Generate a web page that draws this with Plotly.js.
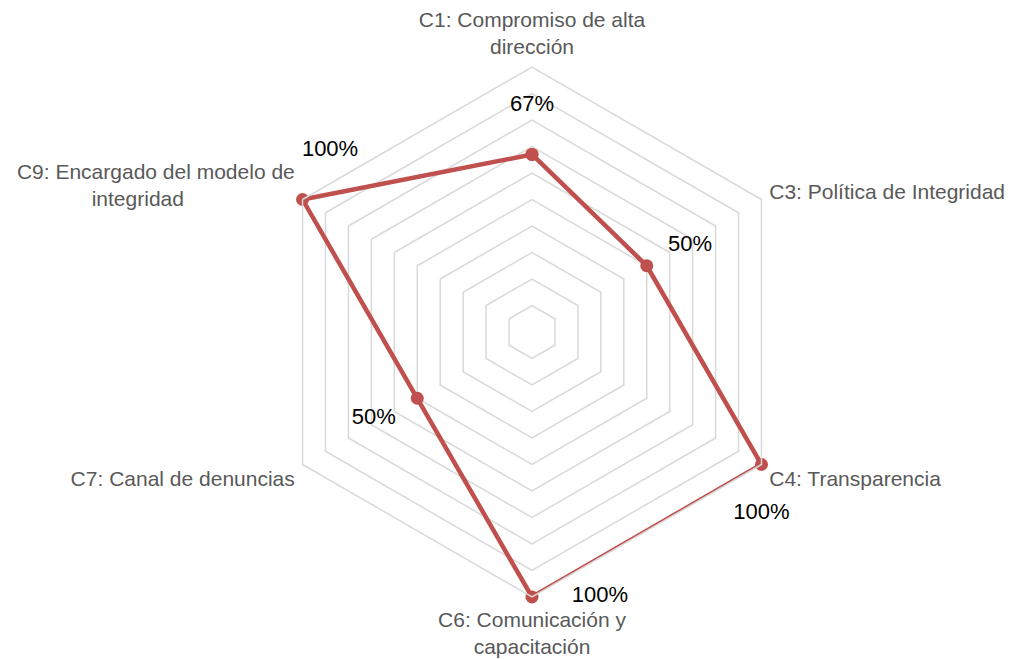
<!DOCTYPE html>
<html><head><meta charset="utf-8">
<script src="https://cdn.plot.ly/plotly-3.0.1.min.js"></script>
<style>html,body{margin:0;padding:0;background:#fff}</style>
</head><body>
<div id="chart" style="width:1018px;height:659px"></div>
<script>
var categories = ["C1: Compromiso de alta<br>dirección", "C3: Política de Integridad", "C4: Transparencia", "C6: Comunicación y<br>capacitación", "C7: Canal de denuncias", "C9: Encargado del modelo de<br>integridad"];
var values = [0.67, 0.50, 1.00, 1.00, 0.50, 1.00];
var labelPositions = ["top center", "top right", "bottom center", "middle right", "bottom left", "top center"];

var NB = '\u00a0';
function rep(n){ return new Array(n+1).join(NB); }
// visual padding of the value labels (style only)
var pads = [
  function(t){ return t + '<br>' + NB; },
  function(t){ return rep(2) + t; },
  function(t){ return NB + '<br>' + t; },
  function(t){ return rep(5) + t; },
  function(t){ return t + rep(2); },
  function(t){ return rep(9) + t + '<br>' + NB; }
];

// center-align second line of C9 label (right-anchored tick label)
var tickText = categories.slice();
tickText[5] = "C9: Encargado del modelo de<br>integridad" + rep(19);

var theta = categories.concat([categories[0]]);
var r = values.concat([values[0]]);
var labels = values.map(function(v, i){ return pads[i](Math.round(v*100)+'%'); }).concat(['']);
var tpos = labelPositions.concat(['top center']);

var trace = {
  type: 'scatterpolar',
  r: r, theta: theta,
  mode: 'lines+markers+text',
  text: labels,
  textposition: tpos,
  textfont: {family: 'Liberation Sans, Arial, sans-serif', size: 22, color: '#000'},
  line: {color: '#C0504D', width: 4.5},
  marker: {color: '#C0504D', size: 13},
  cliponaxis: false,
  hoverinfo: 'skip'
};

var layout = {
  width: 1018, height: 659,
  margin: {l: 0, r: 0, t: 0, b: 0},
  paper_bgcolor: '#fff',
  showlegend: false,
  font: {family: 'Liberation Sans, Arial, sans-serif'},
  polar: {
    domain: {x: [0.2623, 0.7829], y: [0.0941, 0.8983]},
    gridshape: 'linear',
    bgcolor: '#fff',
    radialaxis: {range: [0, 1], dtick: 0.1, showticklabels: false, ticks: '', showline: false,
      gridcolor: '#d9d9d9', gridwidth: 1.5},
    angularaxis: {rotation: 90, direction: 'clockwise', showgrid: false, showline: true,
      linecolor: '#d9d9d9', linewidth: 1.5,
      ticks: 'outside', ticklen: 4, tickcolor: 'rgba(0,0,0,0)',
      tickmode: 'array', tickvals: categories, ticktext: tickText,
      tickfont: {size: 21, color: '#595959', family: 'Liberation Sans, Arial, sans-serif'}}
  }
};

Plotly.newPlot('chart', [trace], layout, {displayModeBar: false, staticPlot: true});
</script>
</body></html>
